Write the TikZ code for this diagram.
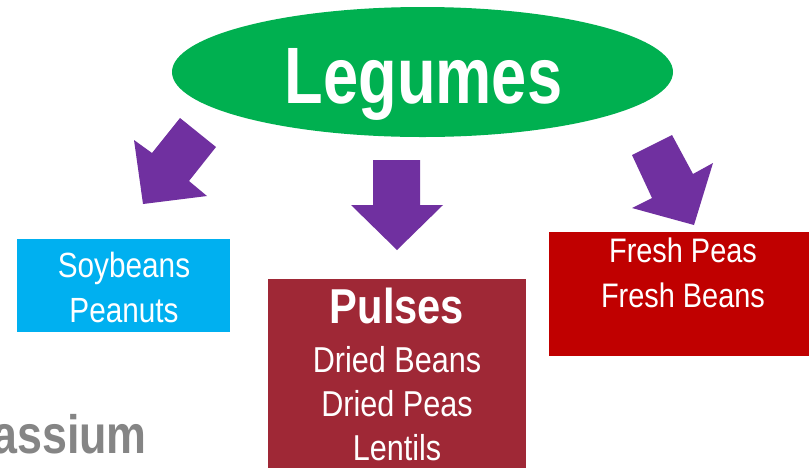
\documentclass[tikz,border=0pt]{standalone}
\usepackage{fontspec}
\setmainfont{Liberation Sans}
\newfontfamily\nsf[FakeStretch=0.85]{Liberation Sans}
\newfontfamily\lsf[FakeStretch=0.79]{Liberation Sans}
\newfontfamily\gsf[FakeStretch=0.83]{Liberation Sans}
\usetikzlibrary{shapes.geometric}
\definecolor{legGreen}{HTML}{00B050}
\definecolor{arrPurple}{HTML}{7030A0}
\definecolor{soyBlue}{HTML}{00B0F0}
\definecolor{freshRed}{HTML}{C00000}
\definecolor{pulseRed}{HTML}{9F2836}
\definecolor{txtGray}{HTML}{858585}
\tikzset{
  boxshape/.style={rectangle, draw=none, inner sep=0pt, outer sep=0pt, anchor=north west},
  blockarrow/.style={fill=arrPurple, draw=none},
  wtext/.style={text=white, inner sep=0pt, anchor=base, font=\nsf\fontsize{35}{42}\selectfont},
}
\begin{document}
\begin{tikzpicture}[x=1pt,y=-1pt]
\useasboundingbox (0,0) rectangle (809,467);
\clip (0,0) rectangle (809,467);
\fill[white] (0,0) rectangle (809,467);

% title ellipse
\node[ellipse, fill=legGreen, draw=none, inner sep=0pt, minimum width=501pt, minimum height=130pt] (leg) at (422.5,72) {};
\node[text=white, inner sep=0pt, anchor=base, font=\lsf\bfseries\fontsize{80}{90}\selectfont] (legt) at (423.5,103) {Legumes};

% boxes
\node[boxshape, fill=soyBlue, minimum width=213pt, minimum height=93pt] (soy) at (17,239) {};
\node[boxshape, fill=pulseRed, minimum width=258pt, minimum height=200pt] (pul) at (268,279) {};
\node[boxshape, fill=freshRed, minimum width=262pt, minimum height=124pt] (fre) at (549,232) {};

% box texts
\node[wtext] (soy1) at (124,277) {Soybeans};
\node[wtext] (soy2) at (124,322) {Peanuts};

\node[wtext, font=\nsf\bfseries\fontsize{49}{56}\selectfont] (pul0) at (397,323) {Pulses};
\node[wtext, font=\nsf\fontsize{36}{42}\selectfont] (pul1) at (397,372) {Dried Beans};
\node[wtext, font=\nsf\fontsize{36}{42}\selectfont] (pul2) at (397,416) {Dried Peas};
\node[wtext, font=\nsf\fontsize{36}{42}\selectfont] (pul3) at (397,460) {Lentils};

\node[wtext, font=\nsf\fontsize{34}{42}\selectfont] (fre1) at (683,262) {Fresh Peas};
\node[wtext, font=\nsf\fontsize{34}{42}\selectfont] (fre2) at (683,307) {Fresh Beans};

% block arrows
\fill[blockarrow] (180,118) -- (216,147) -- (189,181) -- (207,196) -- (143,204) -- (134,140) -- (152,153) -- cycle;
\fill[blockarrow] (373,160) -- (420,160) -- (420,205) -- (443,205) -- (397,250) -- (351,205) -- (373,205) -- cycle;
\fill[blockarrow] (632,155) -- (672,135) -- (693,174) -- (713,163) -- (694,225) -- (632,208) -- (652,198) -- cycle;

% partial text at bottom left
\node[text=txtGray, inner sep=0pt, anchor=base east, font=\gsf\bfseries\fontsize{54}{60}\selectfont] (pot) at (147,453) {assium};
\end{tikzpicture}
\end{document}
